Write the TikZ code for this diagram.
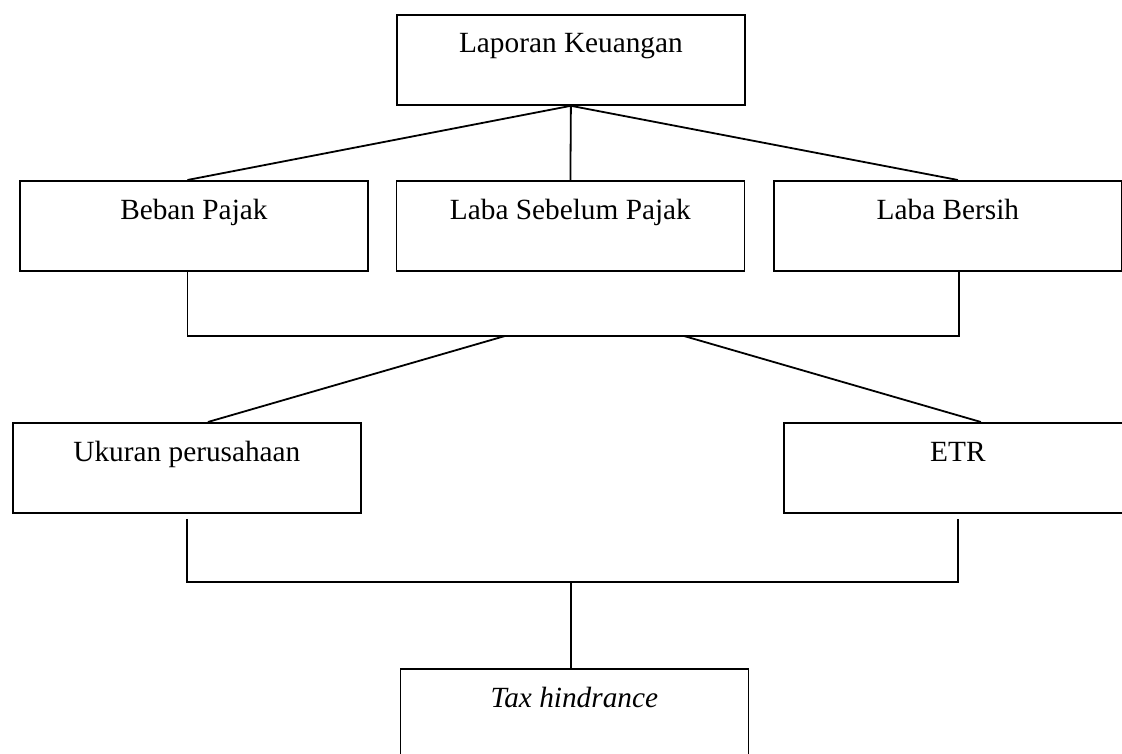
\documentclass[tikz,border=0pt]{standalone}
\usepackage{fontspec}
\setmainfont{Liberation Serif}
\usetikzlibrary{calc}
\begin{document}
\begin{tikzpicture}[x=1pt,y=-1pt,
  box/.style={draw,line width=1.8pt,minimum width=348pt,minimum height=90pt,inner sep=0pt,anchor=north west},
  txt/.style={anchor=base,font=\fontsize{29.3}{35}\selectfont},
  conn/.style={line width=1.8pt}]
\clip (0,0) rectangle (1122,753);
\fill[white] (0,0) rectangle (1122,753);
% boxes
\node[box] (lk) at (396,14) {};
\node[box] (bp) at (19,180) {};
\node[box] (lsp) at (395.5,180) {};
\node[box] (lb) at (773,180) {};
\node[box] (uk) at (12,422) {};
\node[box] (etr) at (783,422) {};
\node[box] (th) at (399.5,668) {};
% texts
\node[txt] (tlk) at ($(lk.north)+(0,38)$) {Laporan Keuangan};
\node[txt] (tbp) at ($(bp.north)+(0,39)$) {Beban Pajak};
\node[txt] (tlsp) at ($(lsp.north)+(0,39)$) {Laba Sebelum Pajak};
\node[txt] (tlb) at ($(lb.north)+(0,39)$) {Laba Bersih};
\node[txt] (tuk) at ($(uk.north)+(0,39)$) {Ukuran perusahaan};
\node[txt] (tetr) at ($(etr.north)+(0,39)$) {ETR};
\node[txt] (tth) at ($(th.north)+(0,39)$) {\itshape Tax hindrance};
% attach points
\coordinate (bpN) at ($(bp.north)+(-6.5,0)$);
\coordinate (lbN) at ($(lb.north)+(10,0)$);
\coordinate (bpS) at ($(bp.south)+(-6.5,0)$);
\coordinate (lbS) at ($(lb.south)+(11,0)$);
\coordinate (bpB) at (bpS |- 0,336);
\coordinate (lbB) at (lbS |- 0,336);
\coordinate (busL) at (505,336);
\coordinate (busR) at (684,336);
\coordinate (ukN) at ($(uk.north)+(21,0)$);
\coordinate (etrN) at ($(etr.north)+(23,0)$);
\coordinate (ukS) at ($(uk.south)+(0,5)$);
\coordinate (etrS) at ($(etr.south)+(0,5)$);
\coordinate (ukB) at (ukS |- 0,582);
\coordinate (etrB) at (etrS |- 0,582);
\coordinate (thN) at ($(th.north)+(-3.5,0)$);
\coordinate (thB) at (thN |- 0,582);
% top to row 2
\draw[conn] (lk.south) -- (bpN);
\draw[conn] (lk.south) -- (lsp.north);
\draw[conn] (lk.south) -- (lbN);
% row 2 bus
\draw[conn] (bpS) -- (bpB) -- (lbB) -- (lbS);
\draw[conn] (busL) -- (ukN);
\draw[conn] (busR) -- (etrN);
% row 3 bus
\draw[conn] (ukS) -- (ukB) -- (etrB) -- (etrS);
\draw[conn] (thB) -- (thN);
\end{tikzpicture}
\end{document}
